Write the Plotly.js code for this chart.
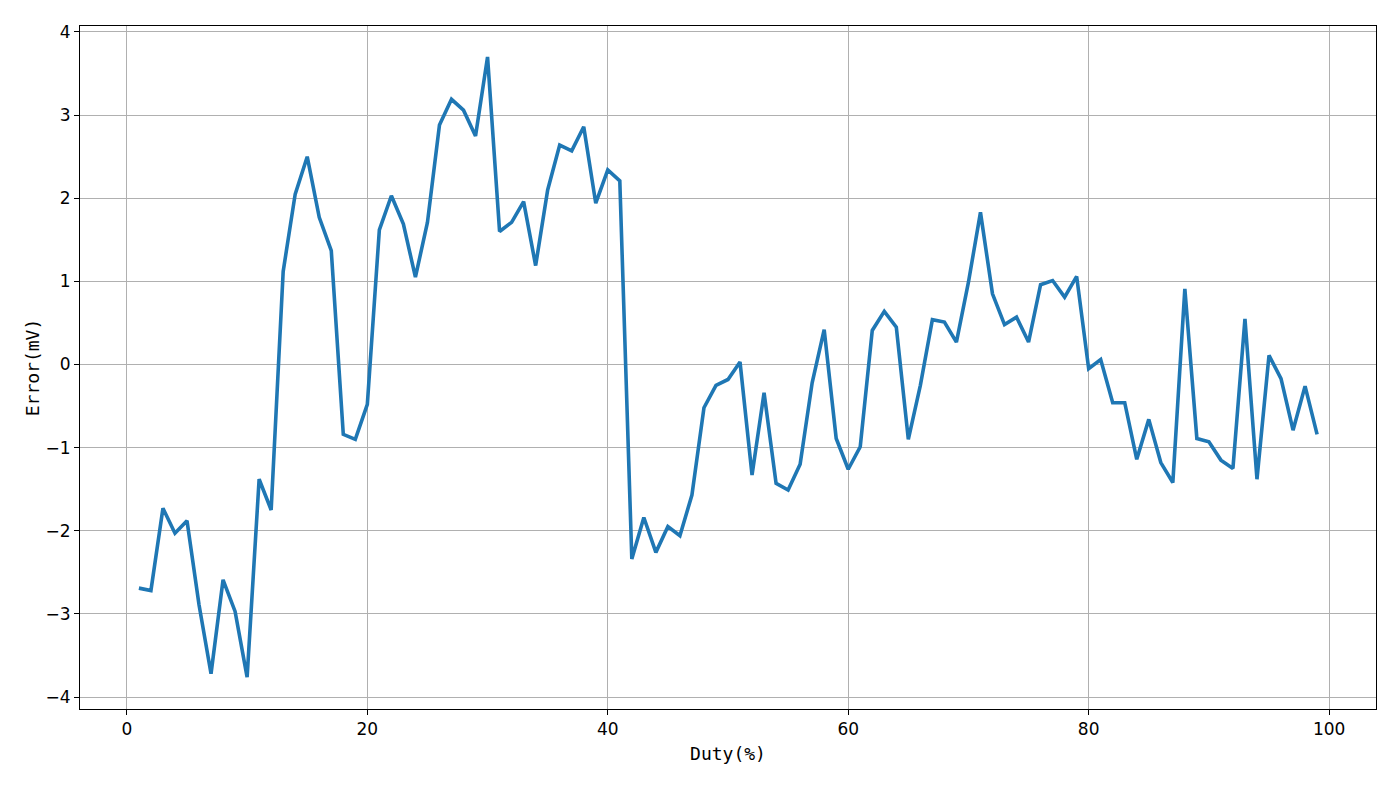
<!DOCTYPE html>
<html>
<head>
<meta charset="utf-8">
<script src="https://cdn.plot.ly/plotly-3.0.1.min.js"></script>
<style>
  html, body { margin: 0; padding: 0; background: #ffffff; }
  #chart { width: 1400px; height: 787px; }
</style>
</head>
<body>
<div id="chart"></div>
<script>
// Duty (%) values
const duty = [];
for (let d = 1; d <= 99; d++) duty.push(d);

// Error (mV) values
const errorMv = [
  -2.69, -2.72, -1.73, -2.03, -1.88, -2.89, -3.72, -2.59, -2.97, -3.76,
  -1.38, -1.75, 1.12, 2.05, 2.50, 1.77, 1.37, -0.84, -0.90, -0.48,
  1.62, 2.03, 1.69, 1.05, 1.71, 2.88, 3.19, 3.06, 2.75, 3.70,
  1.60, 1.71, 1.96, 1.19, 2.10, 2.64, 2.57, 2.86, 1.94, 2.34,
  2.21, -2.34, -1.84, -2.26, -1.95, -2.06, -1.57, -0.52, -0.25, -0.18,
  0.03, -1.33, -0.34, -1.43, -1.51, -1.20, -0.22, 0.42, -0.89, -1.26,
  -0.99, 0.41, 0.64, 0.45, -0.90, -0.25, 0.54, 0.51, 0.27, 0.99,
  1.83, 0.85, 0.48, 0.57, 0.27, 0.96, 1.01, 0.81, 1.06, -0.05,
  0.06, -0.46, -0.46, -1.14, -0.66, -1.18, -1.42, 0.91, -0.89, -0.93,
  -1.15, -1.25, 0.55, -1.38, 0.11, -0.17, -0.79, -0.26, -0.84
];

const xTicks = [0, 20, 40, 60, 80, 100];
const yTicks = [-4, -3, -2, -1, 0, 1, 2, 3, 4];

const trace = {
  x: duty,
  y: errorMv,
  type: 'scatter',
  mode: 'lines',
  line: { color: '#1f77b4', width: 3.6 },
  hoverinfo: 'x+y'
};

const axisCommon = {
  showgrid: true,
  gridcolor: '#b0b0b0',
  gridwidth: 1,
  zeroline: false,
  showline: true,
  linecolor: '#000000',
  linewidth: 1,
  mirror: true,
  ticks: 'outside',
  ticklen: 5,
  tickwidth: 1,
  tickcolor: '#000000',
  tickfont: { family: 'DejaVu Sans, sans-serif', size: 17, color: '#000000' }
};

const layout = {
  width: 1400,
  height: 787,
  paper_bgcolor: '#ffffff',
  plot_bgcolor: '#ffffff',
  margin: { l: 80, r: 24, t: 26, b: 78 },
  showlegend: false,
  xaxis: Object.assign({}, axisCommon, {
    range: [-3.9, 103.9],
    tickmode: 'array',
    tickvals: xTicks,
    ticktext: xTicks.map(String),
    title: { text: 'Duty(%)', standoff: 8,
      font: { family: 'DejaVu Sans Mono, monospace', size: 18, color: '#000000' } }
  }),
  yaxis: Object.assign({}, axisCommon, {
    range: [-4.144, 4.072],
    tickmode: 'array',
    tickvals: yTicks,
    ticktext: yTicks.map(v => v < 0 ? '\u2212' + Math.abs(v) : String(v)),
    title: { text: 'Error(mV)', standoff: 1,
      font: { family: 'DejaVu Sans Mono, monospace', size: 18, color: '#000000' } }
  })
};

Plotly.newPlot('chart', [trace], layout, { displayModeBar: false, staticPlot: true });
</script>
</body>
</html>
